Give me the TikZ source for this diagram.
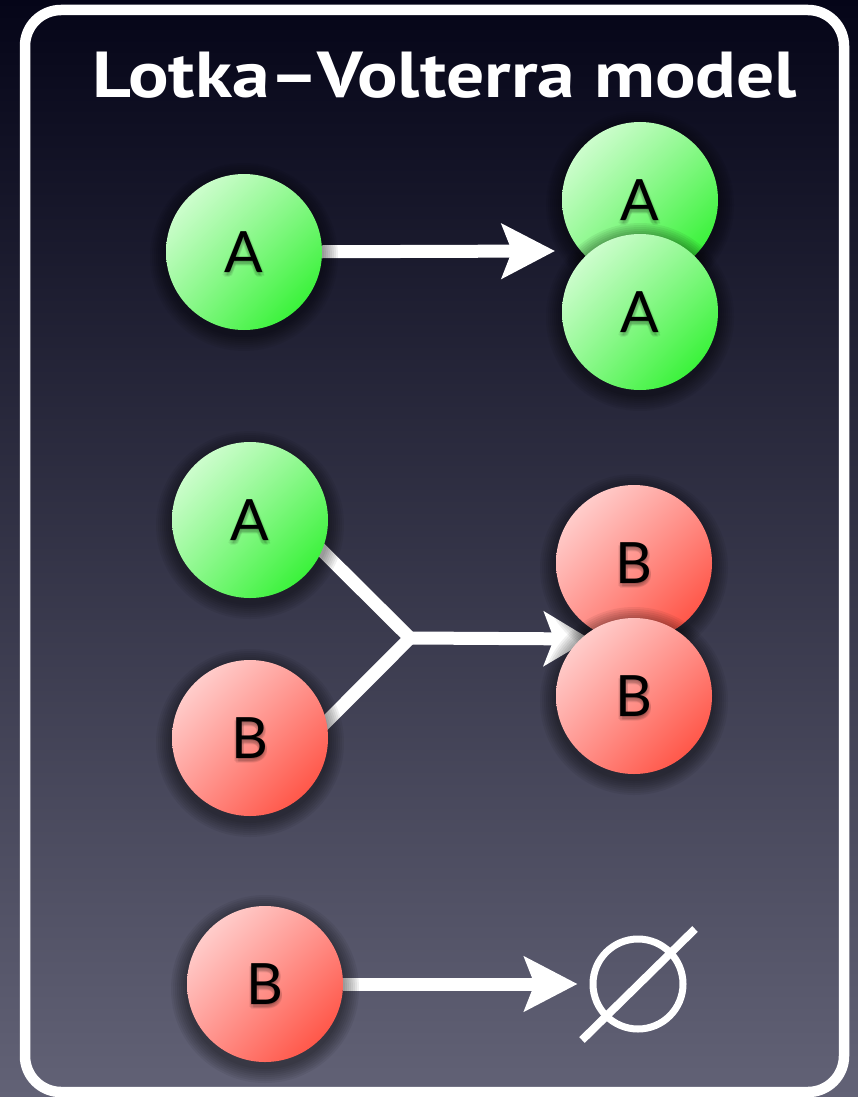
\documentclass[tikz,border=0pt]{standalone}
\usepackage{fontspec}
\usepackage{graphicx}
\usetikzlibrary{arrows.meta,shadings}
\newfontfamily\titlefont{PT Sans}
\newfontfamily\ballfont{Lato}

\definecolor{bgtop}{RGB}{5,5,24}
\definecolor{bgmid}{RGB}{50,50,76}
\definecolor{bgbot}{RGB}{98,98,118}
\definecolor{gLight}{RGB}{232,255,232}
\definecolor{gMid}{RGB}{140,248,140}
\definecolor{gDark}{RGB}{25,240,25}
\definecolor{rLight}{RGB}{255,228,228}
\definecolor{rMid}{RGB}{255,148,142}
\definecolor{rDark}{RGB}{255,62,45}

\pgfdeclarelayer{back}
\pgfdeclarelayer{links}
\pgfsetlayers{back,links,main}

\tikzset{
  ball/.style={circle, minimum size=156pt, inner sep=0pt},
  preyball/.style={ball, upper left=gLight, upper right=gMid, lower left=gMid, lower right=gDark},
  predball/.style={ball, upper left=rLight, upper right=rMid, lower left=rMid, lower right=rDark},
  species/.style={inner sep=0pt, text=black, font=\ballfont\fontsize{57}{60}\selectfont},
  glow/.style={species, text opacity=0.06},
  flow/.style={draw=white, line width=13pt},
  flowarrow/.style={flow, -{Stealth[length=53pt, width=54pt, inset=10pt]}},
}

% soft shadow under a ball centred at the given coordinate
\newcommand\ballshadow[1]{%
  \foreach \k in {1,...,8}{\fill[black, opacity=0.06] (#1) ++(0pt,-5pt) circle[radius=78pt+2pt*\k];}}

% ball with shadow and a softly shadowed letter
\newcommand\species[4]{% style, name, coordinate, letter
  \ballshadow{#3}
  \node[#1] (#2) at (#3) {};
  \foreach \a in {0,45,...,315}{%
    \node[glow] (#2-glow\a) at ([shift={(\a:2.2pt)}, yshift=-3pt]#2.center) {#4};}
  \node[species] (#2-txt) at (#2.center) {#4};}

\begin{document}
\begin{tikzpicture}[x=1pt, y=-1pt]
\useasboundingbox (0,0) rectangle (858,1097);

\begin{pgfonlayer}{back}
  \shade[top color=bgtop, middle color=bgmid, bottom color=bgbot] (0,0) rectangle (858,1097);
  \draw[white, line width=10.5pt, rounded corners=36pt] (25,10) rectangle (844,1092);
\end{pgfonlayer}

\node[text=white, anchor=base, inner sep=0pt,
      font=\titlefont\bfseries\fontsize{65}{70}\selectfont] (title) at (444.5,98)
      {\resizebox{705pt}{\height}{Lotka–Volterra model}};

% positions
\coordinate (pA1) at (244,252);
\coordinate (pA1a) at (640,200);
\coordinate (pA1b) at (640,312);
\coordinate (pA2) at (250,520);
\coordinate (pB2) at (250,738);
\coordinate (pB2a) at (634,563);
\coordinate (pB2b) at (634,696);
\coordinate (pB3) at (265,984);
\coordinate (j) at (410,638);
\coordinate (t1) at (555,251);
\coordinate (t2) at (590,639);

% birth of prey
\species{preyball}{A1}{pA1}{A}
\species{preyball}{A1a}{pA1a}{A}
\species{preyball}{A1b}{pA1b}{A}

% predation
\species{preyball}{A2}{pA2}{A}
\species{predball}{B2}{pB2}{B}
\species{predball}{B2a}{pB2a}{B}
\species{predball}{B2b}{pB2b}{B}

% death of predator
\species{predball}{B3}{pB3}{B}
\node[circle, draw=white, line width=7pt, minimum size=90pt, inner sep=0pt] (empty) at (638,984) {};
\draw[white, line width=8pt] ([shift={(-56pt,-56pt)}]empty.center) -- ([shift={(57pt,55pt)}]empty.center);

\begin{pgfonlayer}{links}
  \draw[flowarrow] (A1) -- (t1);
  \draw[flow, line join=miter, shorten <=-12pt, shorten >=-12pt] (A2.-23) -- (j) -- (B2.12);
  \draw[flowarrow, -{Stealth[length=46pt, width=54pt, inset=10pt]}] (j) -- (t2);
  \draw[flowarrow, shorten >=12pt] (B3) -- (empty);
\end{pgfonlayer}
\end{tikzpicture}
\end{document}
